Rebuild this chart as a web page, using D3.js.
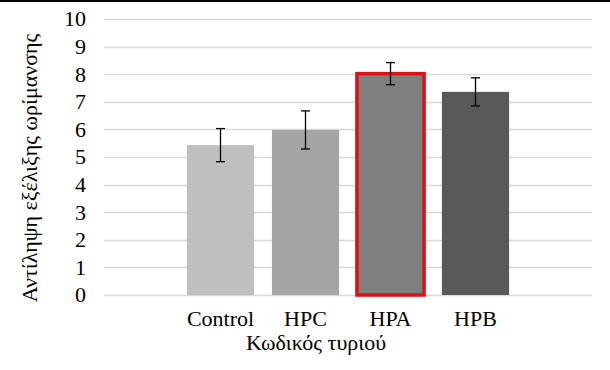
<!DOCTYPE html>
<head>
  <meta charset="utf-8">
  <title>Cheese</title>
  <style>
      body { margin: 0; background: #fff; }
      svg { display: block; }
      svg text { font-family: "Liberation Serif", "DejaVu Serif", serif; font-size: 22px; fill: #000; }
  </style>
  <script src="https://d3js.org/d3.v7.js"></script>
</head>
<body>
<div id="chart"></div>
<script>
    // data
    const categories = ["Control", "HPC", "HPA", "HPB"];
    const values = [5.43, 5.98, 8.02, 7.36];
    const errors = [0.6, 0.69, 0.4, 0.51];
    const colors = ["#bfbfbf", "#a5a5a5", "#7f7f7f", "#595959"];
    const highlighted = "HPA";
    const yTicks = [0, 1, 2, 3, 4, 5, 6, 7, 8, 9, 10];

    const width = 610, height = 370;

    const svg = d3.select("#chart")
        .append("svg")
        .attr("width", width)
        .attr("height", height);

    // black line on top
    svg.append("rect")
        .attr("x", 0).attr("y", 0)
        .attr("width", width).attr("height", 2)
        .attr("fill", "#000");

    const y = d3.scaleLinear()
        .domain([0, 10])
        .range([295, 19]);

    const x = d3.scaleBand()
        .domain(categories)
        .range([178, 518])
        .paddingInner(0.21)
        .paddingOuter(0.105);

    // gridlines
    svg.append("g")
        .selectAll("line")
        .data(yTicks)
        .join("line")
        .attr("x1", 104).attr("x2", 592)
        .attr("y1", d => Math.round(y(d)) + 0.5)
        .attr("y2", d => Math.round(y(d)) + 0.5)
        .attr("stroke", "#d9d9d9")
        .attr("stroke-width", 1.3);

    // y labels
    svg.append("g")
        .selectAll("text")
        .data(yTicks)
        .join("text")
        .attr("x", 86)
        .attr("y", d => y(d))
        .attr("dy", "0.34em")
        .attr("text-anchor", "end")
        .text(d => d);

    // bars
    svg.append("g")
        .selectAll("rect")
        .data(categories)
        .join("rect")
        .attr("x", d => x(d))
        .attr("y", (d, i) => y(values[i]))
        .attr("width", x.bandwidth())
        .attr("height", (d, i) => y(0) - y(values[i]))
        .attr("fill", (d, i) => colors[i])
        .attr("stroke", d => d === highlighted ? "#e01010" : "none")
        .attr("stroke-width", 3.5);

    // error bars
    const eb = svg.append("g")
        .attr("stroke", "#000")
        .attr("stroke-width", 1.3);
    categories.forEach((c, i) => {
        const cx = x(c) + x.bandwidth() / 2;
        const top = y(values[i] + errors[i]);
        const bot = y(values[i] - errors[i]);
        eb.append("line").attr("x1", cx).attr("x2", cx).attr("y1", top).attr("y2", bot);
        eb.append("line").attr("x1", cx - 4.5).attr("x2", cx + 4.5).attr("y1", top).attr("y2", top);
        eb.append("line").attr("x1", cx - 4.5).attr("x2", cx + 4.5).attr("y1", bot).attr("y2", bot);
    });

    // category labels
    svg.append("g")
        .selectAll("text")
        .data(categories)
        .join("text")
        .attr("x", d => x(d) + x.bandwidth() / 2)
        .attr("y", 326)
        .attr("text-anchor", "middle")
        .text(d => d);

    // axis titles
    svg.append("text")
        .attr("x", 316)
        .attr("y", 350)
        .attr("text-anchor", "middle")
        .text("Κωδικός τυριού");

    svg.append("text")
        .attr("transform", "translate(37,168) rotate(-90)")
        .attr("text-anchor", "middle")
        .text("Αντίληψη εξέλιξης ωρίμανσης");
</script>
</body>
